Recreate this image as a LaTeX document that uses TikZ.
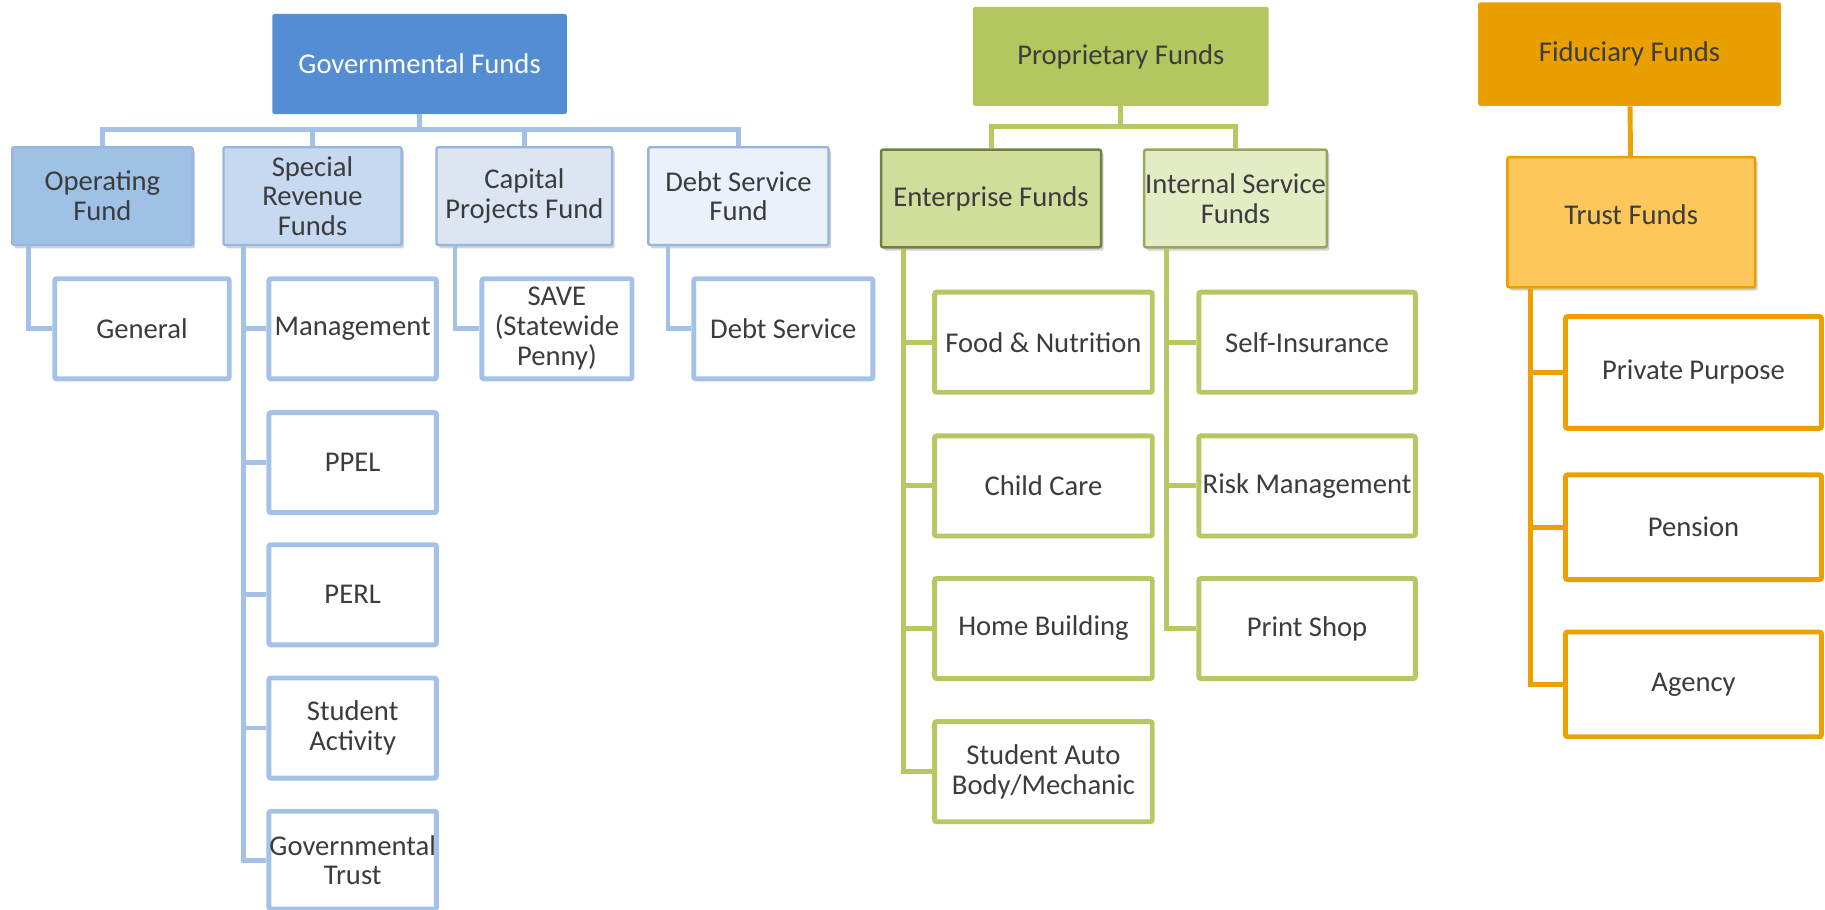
\documentclass[tikz,border=0pt]{standalone}
\usepackage{fontspec}
\setmainfont{Carlito}
\usetikzlibrary{shadows}

% fund colours
\definecolor{textgray}{RGB}{60,60,60}
\definecolor{govblue}{RGB}{84,141,212}
\definecolor{opblue}{RGB}{159,193,230}
\definecolor{specblue}{RGB}{198,217,241}
\definecolor{capblue}{RGB}{220,230,243}
\definecolor{debtblue}{RGB}{234,241,250}
\definecolor{subblue}{RGB}{150,182,222}
\definecolor{lineblue}{RGB}{164,194,232}
\definecolor{propgreen}{RGB}{179,198,96}
\definecolor{entgreen}{RGB}{209,221,155}
\definecolor{intgreen}{RGB}{227,236,196}
\definecolor{entedge}{RGB}{112,128,66}
\definecolor{intedge}{RGB}{150,168,92}
\definecolor{linegreen}{RGB}{181,200,98}
\definecolor{fidorange}{RGB}{233,159,0}
\definecolor{trustorange}{RGB}{253,199,92}
\definecolor{lineorange}{RGB}{236,161,0}

\begin{document}
\begin{tikzpicture}[x=0.02cm, y=-0.02cm,
    font=\fontsize{14}{14.6}\selectfont, text=textgray,
    box/.style={rectangle, align=center, inner sep=0pt, rounded corners=1pt},
    head/.style={box, fill=#1, minimum height=1.72cm},
    sub/.style={box, line width=1.2pt, minimum height=1.68cm,
        drop shadow={shadow xshift=1.2pt, shadow yshift=-1.6pt, opacity=0.35}},
    leaf/.style={box, fill=white, draw=#1, line width=2.4pt, minimum height=1.72cm},
    link/.style={draw=#1, line width=2.4pt}
]
\useasboundingbox (0,0) rectangle (1568,781);

% Governmental funds
\node[head=govblue, text=white, minimum width=5.06cm] (gov) at (360.5,55) {Governmental Funds};
\node[sub, fill=opblue, draw=subblue, minimum width=3.1cm] (op) at (88,168.5) {Operating\\Fund};
\node[sub, fill=specblue, draw=subblue, minimum width=3.06cm] (spec) at (268.5,168.5) {Special\\Revenue\\Funds};
\node[sub, fill=capblue, draw=subblue, minimum width=3.02cm] (cap) at (450.5,168.5) {Capital\\Projects Fund};
\node[sub, fill=debtblue, draw=subblue, minimum width=3.1cm] (debt) at (634.5,168.5) {Debt Service\\Fund};

\node[leaf=lineblue, minimum width=3cm] (general) at (122,282.5) {General};
\node[leaf=lineblue, minimum width=2.88cm] (mgmt) at (303,282.5) {Management};
\node[leaf=lineblue, minimum width=2.88cm] (ppel) at (303,397.5) {PPEL};
\node[leaf=lineblue, minimum width=2.88cm] (perl) at (303,511) {PERL};
\node[leaf=lineblue, minimum width=2.88cm] (student) at (303,625.5) {Student\\Activity};
\node[leaf=lineblue, minimum width=2.88cm, minimum height=1.68cm] (govtrust) at (303,739) {Governmental\\Trust};
\node[leaf=lineblue, minimum width=2.58cm] (save) at (478.5,282.5) {SAVE\\(Statewide\\Penny)};
\node[leaf=lineblue, minimum width=3.08cm] (debtsvc) at (673,282.5) {Debt Service};

\foreach \c in {op,spec,cap,debt}
    \draw[link=lineblue] (gov.south) -- ++(0,13) -| (\c.north);
\draw[link=lineblue] ([xshift=0.3cm]op.south west) |- (general.west);
\foreach \c in {mgmt,ppel,perl,student,govtrust}
    \draw[link=lineblue] ([xshift=0.36cm]spec.south west) |- (\c.west);
\draw[link=lineblue] ([xshift=0.34cm]cap.south west) |- (save.west);
\draw[link=lineblue] ([xshift=0.36cm]debt.south west) |- (debtsvc.west);

% Proprietary funds
\node[head=propgreen, minimum width=5.08cm, minimum height=1.7cm] (prop) at (963,48.5) {Proprietary Funds};
\node[sub, fill=entgreen, draw=entedge, minimum width=3.78cm] (ent) at (851.5,170.5) {Enterprise Funds};
\node[sub, fill=intgreen, draw=intedge, minimum width=3.14cm] (int) at (1061.5,170.5) {Internal Service\\Funds};

\node[leaf=linegreen, minimum width=3.74cm] (food) at (896.5,294) {Food \& Nutrition};
\node[leaf=linegreen, minimum width=3.74cm] (child) at (896.5,417.5) {Child Care};
\node[leaf=linegreen, minimum width=3.74cm] (home) at (896.5,540) {Home Building};
\node[leaf=linegreen, minimum width=3.74cm] (auto) at (896.5,663) {Student Auto\\Body/Mechanic};
\node[leaf=linegreen, minimum width=3.72cm] (selfins) at (1123,294) {Self-Insurance};
\node[leaf=linegreen, minimum width=3.72cm] (risk) at (1123,417.5) {Risk Management};
\node[leaf=linegreen, minimum width=3.72cm] (print) at (1123,540) {Print Shop};

\foreach \c in {ent,int}
    \draw[link=linegreen] (prop.south) -- ++(0,17) -| (\c.north);
\foreach \c in {food,child,home,auto}
    \draw[link=linegreen] ([xshift=0.4cm]ent.south west) |- (\c.west);
\foreach \c in {selfins,risk,print}
    \draw[link=linegreen] ([xshift=0.4cm]int.south west) |- (\c.west);

% Fiduciary funds
\node[head=fidorange, minimum width=5.2cm, minimum height=1.78cm] (fid) at (1400,46.5) {Fiduciary Funds};
\node[sub, fill=trustorange, draw=fidorange, minimum width=4.26cm, minimum height=2.24cm] (trust) at (1401.5,191) {\raisebox{0.25cm}{Trust Funds}};

\node[leaf=lineorange, minimum width=4.4cm, minimum height=1.92cm] (private) at (1455,320) {Private Purpose};
\node[leaf=lineorange, minimum width=4.4cm, minimum height=1.8cm] (pension) at (1455,453) {Pension};
\node[leaf=lineorange, minimum width=4.4cm, minimum height=1.8cm] (agency) at (1455,588) {Agency};

\draw[link=lineorange] (fid) -- (trust);
\foreach \c in {private,pension,agency}
    \draw[link=lineorange] ([xshift=0.42cm]trust.south west) |- (\c.west);
\end{tikzpicture}
\end{document}
